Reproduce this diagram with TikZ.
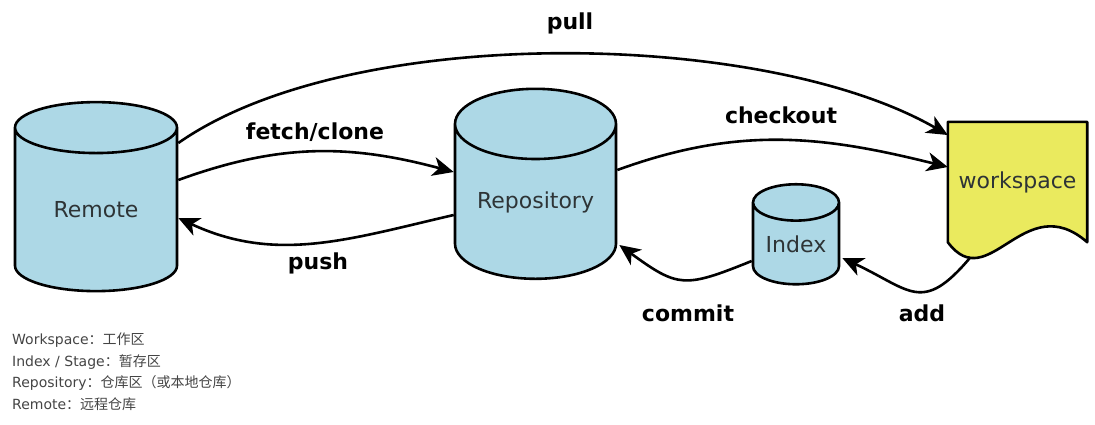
\documentclass[tikz,border=0pt]{standalone}
\usepackage{fontspec}
\setmainfont{DejaVu Sans}
\newfontfamily\cjk{Noto Sans CJK SC}
\usepackage{tikz}
\usetikzlibrary{shapes.geometric,backgrounds,arrows.meta}
\definecolor{storeblue}{HTML}{ADD8E6}
\definecolor{wsyellow}{HTML}{EAEA5E}
\definecolor{labelgrey}{HTML}{2E3436}
\definecolor{notegrey}{HTML}{444444}

\begin{document}
\begin{tikzpicture}[x=1pt, y=1pt,
  store/.style={cylinder, shape border rotate=90, aspect=0.6, draw=black, line width=2.6pt, fill=storeblue, text=labelgrey, font=\fontsize{22}{26}\selectfont, inner sep=0pt},
  flow/.style={draw=black, line width=2.6pt, -{Stealth[length=21pt,width=19pt,inset=6pt]}},
  op/.style={font=\bfseries\fontsize{22}{26}\selectfont, text=black, inner sep=0pt}]
  \useasboundingbox (0,0) rectangle (1095,-424);

  % Git storage areas
  \node[store, minimum width=162pt, minimum height=189pt] (remote) at (96,-210) {Remote};
  \node[store, minimum width=161pt, minimum height=190pt] (repo) at (535.5,-202) {Repository};
  \node[store, minimum width=86pt, minimum height=100pt] (index) at (796,-244) {Index};
  \node[minimum width=139pt, minimum height=120pt, inner sep=0pt, text=labelgrey, font=\fontsize{22}{26}\selectfont] (workspace) at (1017.5,-182) {workspace};
  \begin{scope}[on background layer]
    \draw[line width=2.6pt, line join=round, fill=wsyellow] (workspace.north west) -- (workspace.north east) -- (workspace.south east)
      .. controls ([xshift=-63pt,yshift=55pt]workspace.south east) and ([xshift=41pt,yshift=-55pt]workspace.south west) .. (workspace.south west) -- cycle;
  \end{scope}

  % commands
  \draw[flow] ([yshift=67pt]remote.east) to[out=35, in=150, looseness=0.7] ([yshift=47pt]workspace.west);
  \draw[flow] ([yshift=30pt]remote.east) to[out=20, in=165] ([yshift=30pt]repo.west);
  \draw[flow] ([yshift=-13pt]repo.west) to[out=193, in=335] ([yshift=-8pt]remote.east);
  \draw[flow] ([yshift=32pt]repo.east) to[out=20, in=166] ([yshift=15pt]workspace.west);
  \draw[flow] ([yshift=-17pt]index.west) to[out=202, in=324, looseness=1.4] ([xshift=2pt,yshift=-43pt]repo.east);
  \draw[flow] ([xshift=-47pt,yshift=-15pt]workspace.south) to[out=230, in=335, looseness=1.5] ([xshift=2pt,yshift=-14pt]index.east);

  \node[op] (pull) at (570,-23) {pull};
  \node[op] (fetch) at (315,-132) {fetch/clone};
  \node[op] (push) at (318,-263) {push};
  \node[op] (checkout) at (781,-115) {checkout};
  \node[op] (commit) at (688,-313) {commit};
  \node[op] (add) at (922,-313) {add};

  % legend
  \node[anchor=north west, align=left, inner sep=0pt, text=notegrey, font=\fontsize{14}{21.5}\selectfont] (legend) at (12,-333)
    {Workspace{\cjk ：工作区}\\Index / Stage{\cjk ：暂存区}\\Repository{\cjk ：仓库区（或本地仓库）}\\Remote{\cjk ：远程仓库}};
\end{tikzpicture}
\end{document}
